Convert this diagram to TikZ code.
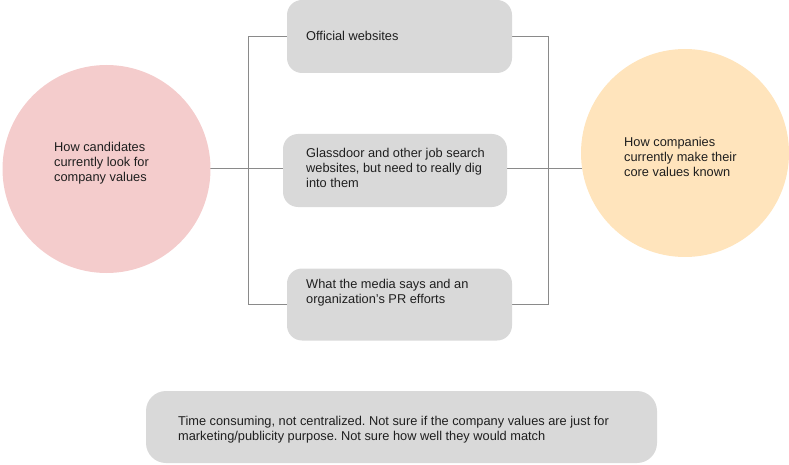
\documentclass[tikz,border=0pt]{standalone}
\usepackage{fontspec}
\setmainfont{Liberation Sans}
\usepackage{xcolor}
\usepackage{tikz}
\usetikzlibrary{positioning, calc, backgrounds}
\definecolor{CandPink}{HTML}{F4CCCC}
\definecolor{CompPeach}{HTML}{FFE4BC}
\definecolor{IdeaGray}{HTML}{D9D9D9}
\definecolor{LinkGray}{HTML}{8A8A8A}
\definecolor{InkDark}{HTML}{1F1F1F}
\frenchspacing
\tikzset{
  topic node/.style={circle, draw=none, minimum size=208pt, inner sep=0pt},
  cand node/.style={topic node, fill=CandPink},
  comp node/.style={topic node, fill=CompPeach},
  idea node/.style={rectangle, rounded corners=15pt, fill=IdeaGray,
                    minimum width=225pt, minimum height=73pt, inner sep=0pt},
  note node/.style={idea node, rounded corners=20pt, minimum width=511pt,
                    minimum height=72pt},
  txt node/.style={anchor=west, align=left, inner sep=0pt, text=InkDark,
                   font=\fontsize{12.8}{15}\selectfont},
  link edge/.style={draw=LinkGray, line width=1pt},
}

\begin{document}
\begin{tikzpicture}[x=1pt, y=-1pt]
  \useasboundingbox (0,0) rectangle (789,465);
  \node[cand node] (cand) at (106.5,169) {};
  \node[comp node] (comp) at (685,153) {};
  \node[idea node] (web) at (399.5,36.5) {};
  \node[idea node, minimum width=224pt] (glass) at (395,170.5) {};
  \node[idea node, minimum height=72pt] (media) at (399.5,304.5) {};
  \node[note node] (note) at (401.5,427) {};
  \node[txt node] (candtxt) at (54,163) {How candidates\\currently look for\\company values};
  \node[txt node] (comptxt) at (624,157) {How companies\\currently make their\\core values known};
  \node[txt node] (webtxt) at (306,36) {Official websites};
  \node[txt node] (glasstxt) at (306,167.5) {Glassdoor and other job search\\websites, but need to really dig\\into them};
  \node[txt node] (mediatxt) at (306,293) {What the media says and an\\organization’s PR efforts};
  \node[txt node] (notetxt) at (178,430) {Time consuming, not centralized. Not sure if the company values are just for\\marketing/publicity purpose. Not sure how well they would match};
  \coordinate (lbar) at (248,0);
  \coordinate (rbar) at (548,0);
  \begin{scope}[on background layer]
    \draw[link edge] (web.west) -- (web.west -| lbar) -- (media.west -| lbar) -- (media.west);
    \draw[link edge] (web.east) -- (web.east -| rbar) -- (media.east -| rbar) -- (media.east);
    \draw[link edge] (cand.center) -- (cand.center -| glass.west);
    \draw[link edge] (glass.east |- cand.center) -- (comp.center |- cand.center);
  \end{scope}
\end{tikzpicture}
\end{document}
